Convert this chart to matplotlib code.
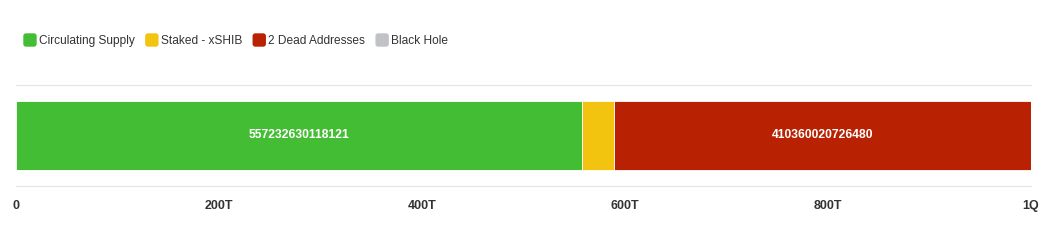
import matplotlib.pyplot as plt
from matplotlib.patches import FancyBboxPatch
from matplotlib.ticker import FuncFormatter

plt.rcParams["font.family"] = ["Liberation Sans", "DejaVu Sans"]

series = ["Circulating Supply", "Staked - xSHIB", "2 Dead Addresses", "Black Hole"]
values = [557232630118121, 32000000000000, 410360020726480, 407349155399]
colors = ["#43bd33", "#f2c40f", "#b82203", "#c0c2c5"]
ticks = [0, 200e12, 400e12, 600e12, 800e12, 1e15]
tick_labels = ["0", "200T", "400T", "600T", "800T", "1Q"]

fig = plt.figure(figsize=(10.47, 2.45), dpi=100)
ax = fig.add_axes([16 / 1047, 59 / 245, 1015 / 1047, 101 / 245])

left = 0
for name, v, c in zip(series, values, colors):
    ax.barh(0, v, left=left, height=0.69, color=c, edgecolor="white", linewidth=0.6, label=name)
    if v > 100e12:
        ax.text(left + v / 2, 0, str(v), ha="center", va="center", color="white",
                fontsize=8.7, fontweight="bold")
    left += v

ax.set_xlim(0, 1e15)
ax.set_ylim(-0.5, 0.5)
ax.set_yticks([])
ax.set_xticks(ticks)
ax.xaxis.set_major_formatter(FuncFormatter(lambda x, p: tick_labels[ticks.index(x)] if x in ticks else ""))
ax.tick_params(axis="x", length=0, pad=10, labelsize=9, labelcolor="#333333")
for lab in ax.get_xticklabels():
    lab.set_fontweight("bold")
for s in ["left", "right"]:
    ax.spines[s].set_visible(False)
for s in ["top", "bottom"]:
    ax.spines[s].set_color("#e6e6e6")
    ax.spines[s].set_linewidth(1)

# legend with rounded squares
x = 24
for name, c in zip(series, colors):
    fig.patches.append(FancyBboxPatch((x / 1047, (245 - 46) / 245), 12 / 1047, 12 / 245,
                                      boxstyle="round,pad=0,rounding_size=0.002",
                                      transform=fig.transFigure, color=c, mutation_aspect=1047 / 245))
    t = fig.text((x + 15) / 1047, (245 - 41) / 245, name, fontsize=8.55, color="#333333",
                 va="center", ha="left")
    fig.canvas.draw()
    bb = t.get_window_extent()
    x = bb.x1 + 11

fig.savefig("out.png", dpi=100)
